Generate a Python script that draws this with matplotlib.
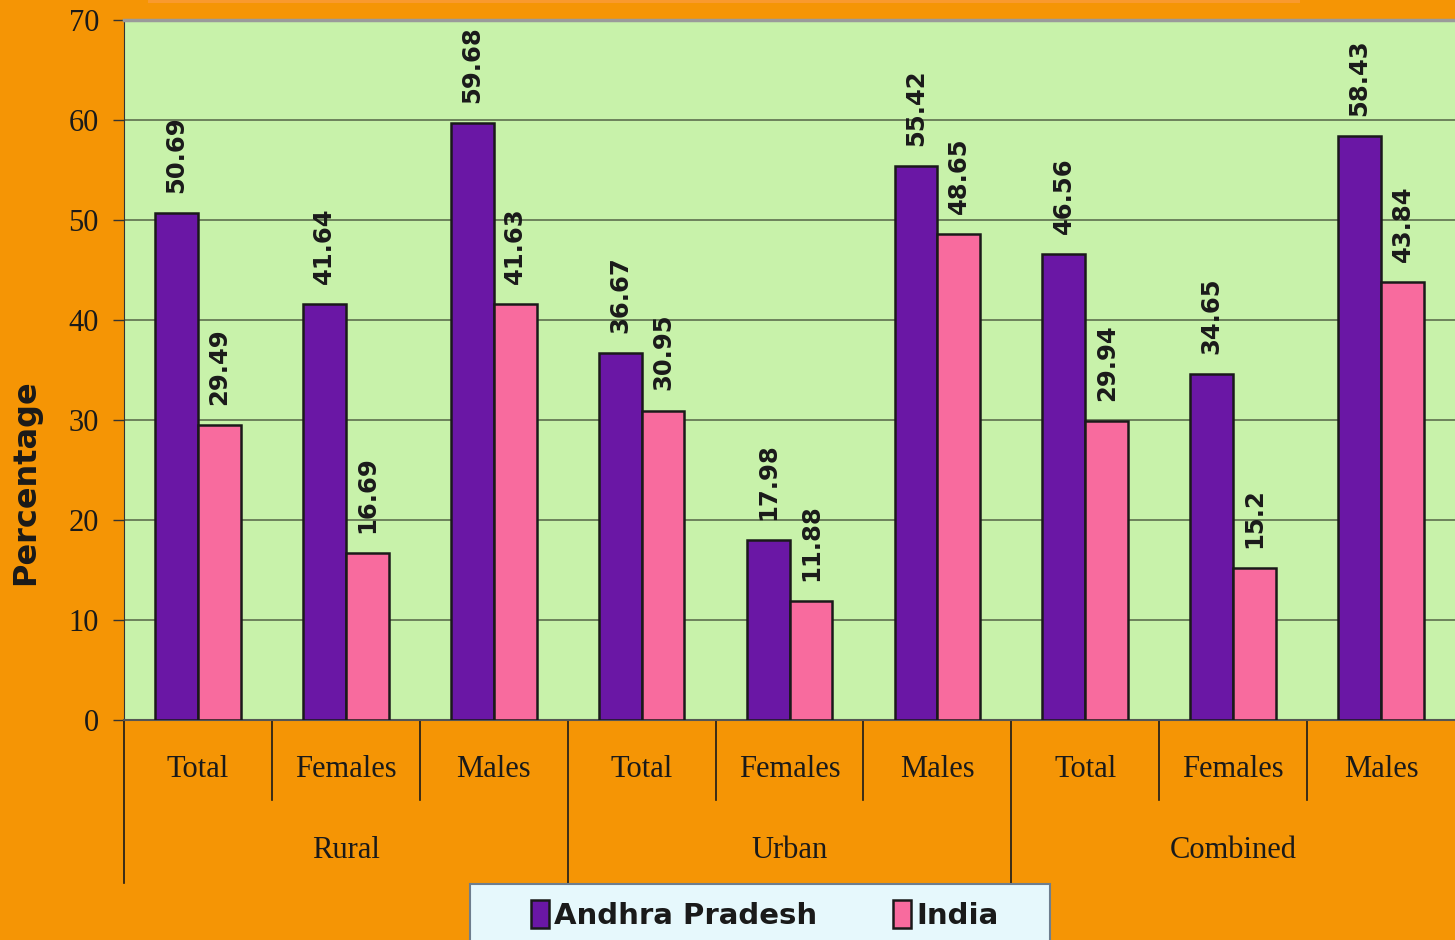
import matplotlib
matplotlib.use('Agg')
import numpy as np
from matplotlib import pyplot as plt
from matplotlib.patches import Rectangle

# 数据
groups = ['Rural', 'Urban', 'Combined']
subcats = ['Total', 'Females', 'Males']
andhra = [50.69, 41.64, 59.68, 36.67, 17.98, 55.42, 46.56, 34.65, 58.43]
india = [29.49, 16.69, 41.63, 30.95, 11.88, 48.65, 29.94, 15.2, 43.84]
series_names = ['Andhra Pradesh', 'India']
yticks = [0, 10, 20, 30, 40, 50, 60, 70]

ORANGE = '#F59505'
GREEN = '#C8F2AA'
PURPLE = '#6A17A5'
PINK = '#F86B9E'

fig = plt.figure(figsize=(14.55, 9.4), dpi=100)
fig.patch.set_facecolor(ORANGE)
# 顶部浅色条
fig.patches.append(Rectangle((148 / 1455, 1 - 3 / 940), (1300 - 148) / 1455, 3 / 940,
                             transform=fig.transFigure, facecolor='#F99A2E',
                             edgecolor='none', zorder=0))

ax = fig.add_axes([124 / 1455, 1 - 720 / 940, 1 - 124 / 1455, 700 / 940])
ax.set_facecolor(GREEN)

n = len(andhra)
x = np.arange(n)
width = 0.29

b1 = ax.bar(x - width, andhra, width, align='edge', color=PURPLE, edgecolor='#1a1a1a',
            linewidth=1.8, label=series_names[0], zorder=3)
b2 = ax.bar(x, india, width, align='edge', color=PINK, edgecolor='#1a1a1a',
            linewidth=1.8, label=series_names[1], zorder=3)

# 数值标签
for rects, vals in ((b1, andhra), (b2, india)):
    for r, v in zip(rects, vals):
        ax.text(r.get_x() + r.get_width() / 2, v + 2.0, f'{v:g}', rotation=90,
                ha='center', va='bottom', fontsize=17.5, fontweight='heavy',
                color='#1a1a1a', family='DejaVu Sans', zorder=4)

ax.set_xlim(-0.5, n - 0.5)
ax.set_ylim(0, 70)
ax.set_yticks(yticks)
ax.set_yticklabels([str(t) for t in yticks], family='Liberation Serif', fontsize=22,
                   color='#1a1a1a')
ax.tick_params(axis='y', length=8, width=1, pad=10, color='#333333')
ax.set_xticks([])
ax.yaxis.grid(True, color='#5E6E4E', linewidth=1.2, zorder=1)
ax.set_axisbelow(True)

ax.spines['top'].set_color('#9A9A9A')
ax.spines['top'].set_linewidth(2.5)
ax.spines['right'].set_visible(False)
ax.spines['left'].set_color('#333333')
ax.spines['bottom'].set_color('#555555')
ax.spines['bottom'].set_linewidth(1.5)

ax.set_ylabel('Percentage', fontsize=23, fontweight='bold', family='DejaVu Sans',
              color='#1a1a1a')
ax.yaxis.set_label_coords(-0.062, 0.34)

# 多级分类标签
trans = ax.get_xaxis_transform()
for i in range(n):
    ax.text(i, -0.071, subcats[i % 3], transform=trans, ha='center', va='center',
            family='Liberation Serif', fontsize=22, color='#1a1a1a')
for g, name in enumerate(groups):
    ax.text(g * 3 + 1, -0.187, name, transform=trans, ha='center', va='center',
            family='Liberation Serif', fontsize=22, color='#1a1a1a')
for i in range(n):
    edge = i - 0.5
    low = -0.233 if i % 3 == 0 else -0.114
    ax.plot([edge, edge], [0, low], transform=trans, color='#1a1a1a',
            linewidth=1.2, clip_on=False)

# 图例
fig.patches.append(Rectangle((470 / 1455, -0.01), 580 / 1455, 56 / 940 + 0.01,
                             transform=fig.transFigure, facecolor='#E6F8FC',
                             edgecolor='#6E7E8E', linewidth=1.5, zorder=0))
leg = fig.legend(handles=[b1, b2], loc='center', bbox_to_anchor=(765 / 1455, 1 - 915 / 940),
                 ncol=2, frameon=False, handlelength=0.6, handleheight=1.1,
                 handletextpad=0.2, columnspacing=2.6,
                 prop={'family': 'DejaVu Sans', 'weight': 'bold', 'size': 21})
for t in leg.get_texts():
    t.set_color('#1a1a1a')

fig.savefig('out.png', dpi=100, facecolor=fig.get_facecolor())
